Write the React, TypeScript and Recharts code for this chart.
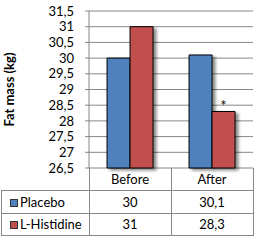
import { Bar, BarChart, CartesianGrid, LabelList, XAxis, YAxis } from "recharts";

const categories = ["Before", "After"];
const placebo = [30, 30.1];
const histidine = [31, 28.3];
const marks = ["", "*"];
const yTicks = [26.5, 27, 27.5, 28, 28.5, 29, 29.5, 30, 30.5, 31, 31.5];

const seriesRows = [
  { name: "Placebo", color: "#4F81BD", values: placebo },
  { name: "L-Histidine", color: "#C0504D", values: histidine },
];

const data = categories.map((category, i) => ({
  category,
  placebo: placebo[i],
  histidine: histidine[i],
  mark: marks[i],
}));

const FONT = "Lato, 'Open Sans', sans-serif";
const GRID = "#868686";
const FS = 13;
const fmt = (v: number) => String(v).replace(".", ",");

// plot area edges, shared by the chart margins and the data table below it
const PLOT_LEFT = 89;
const PLOT_RIGHT = 253;
const PLOT_BOTTOM = 168;
const colW = (PLOT_RIGHT - PLOT_LEFT) / categories.length;

function DataTable() {
  const line = (x: number, y: number, w: number, h: number, key: string) => (
    <div key={key} style={{ position: "absolute", left: x, top: y, width: w, height: h, background: GRID }} />
  );
  const rowTop = [PLOT_BOTTOM, 190, 213, 235];
  const cell = (text: string, x: number, y0: number, y1: number, w: number, key: string) => (
    <div
      key={key}
      style={{
        position: "absolute",
        left: x,
        top: y0,
        width: w,
        height: y1 - y0,
        display: "flex",
        alignItems: "center",
        justifyContent: "center",
        fontSize: FS,
        color: "#000",
      }}
    >
      {text}
    </div>
  );
  return (
    <div style={{ position: "absolute", left: 0, top: 0, width: 256, height: 240, fontFamily: FONT }}>
      {[PLOT_LEFT, PLOT_LEFT + colW, PLOT_RIGHT].map((x, i) =>
        line(Math.round(x), PLOT_BOTTOM, 1, rowTop[3] - PLOT_BOTTOM + 1, "v" + i)
      )}
      {line(1, rowTop[1], 1, rowTop[3] - rowTop[1] + 1, "vl")}
      {rowTop.slice(1).map((y, i) => line(1, y, PLOT_RIGHT - 1, 1, "h" + i))}
      {categories.map((c, i) => cell(c, PLOT_LEFT + i * colW, rowTop[0], rowTop[1], colW, "c" + i))}
      {seriesRows.map((s, r) => (
        <div key={s.name}>
          <div
            style={{
              position: "absolute",
              left: 10,
              top: (rowTop[r + 1] + rowTop[r + 2]) / 2 - 3,
              width: 6,
              height: 6,
              background: s.color,
              border: "1px solid #333",
            }}
          />
          <div
            style={{
              position: "absolute",
              left: 20,
              top: rowTop[r + 1],
              height: rowTop[r + 2] - rowTop[r + 1],
              display: "flex",
              alignItems: "center",
              fontSize: FS,
            }}
          >
            {s.name}
          </div>
          {s.values.map((v, i) =>
            cell(fmt(v), PLOT_LEFT + i * colW, rowTop[r + 1], rowTop[r + 2], colW, s.name + i)
          )}
        </div>
      ))}
    </div>
  );
}

export default function App() {
  return (
    <div style={{ position: "absolute", left: 0, top: 0, width: 256, height: 240, background: "#fff" }}>
      <BarChart
        width={256}
        height={240}
        data={data}
        margin={{ top: 11, right: 256 - PLOT_RIGHT, bottom: 240 - PLOT_BOTTOM, left: 0 }}
        barCategoryGap="22%"
        barGap={0}
        style={{ fontFamily: FONT }}
      >
        <defs>
          <filter id="barShadow" x="-20%" y="-10%" width="160%" height="130%">
            <feDropShadow dx={3} dy={2} stdDeviation={1.5} floodColor="#000" floodOpacity={0.45} />
          </filter>
        </defs>
        <CartesianGrid vertical={false} stroke={GRID} strokeWidth={1} />
        <XAxis dataKey="category" tick={false} height={0} axisLine={{ stroke: GRID }} tickLine={false} />
        <YAxis
          width={PLOT_LEFT}
          domain={[26.5, 31.5]}
          ticks={yTicks}
          interval={0}
          tickFormatter={fmt}
          tickSize={4}
          tickMargin={11}
          axisLine={{ stroke: GRID }}
          tickLine={{ stroke: GRID }}
          tick={{ fontSize: FS, fill: "#000" }}
          label={{
            value: "Fat mass (kg)",
            angle: -90,
            position: "insideLeft",
            offset: 9,
            textAnchor: "middle",
            style: { fontSize: 13, fontWeight: 700, fill: "#000", textAnchor: "middle" },
          }}
        />
        <Bar dataKey="placebo" fill="#4F81BD" stroke="#000" strokeWidth={1} filter="url(#barShadow)" isAnimationActive={false} />
        <Bar dataKey="histidine" fill="#C0504D" stroke="#000" strokeWidth={1} filter="url(#barShadow)" isAnimationActive={false}>
          <LabelList dataKey="mark" position="top" offset={0} style={{ fontSize: 15, fill: "#000" }} />
        </Bar>
      </BarChart>
      <DataTable />
    </div>
  );
}
